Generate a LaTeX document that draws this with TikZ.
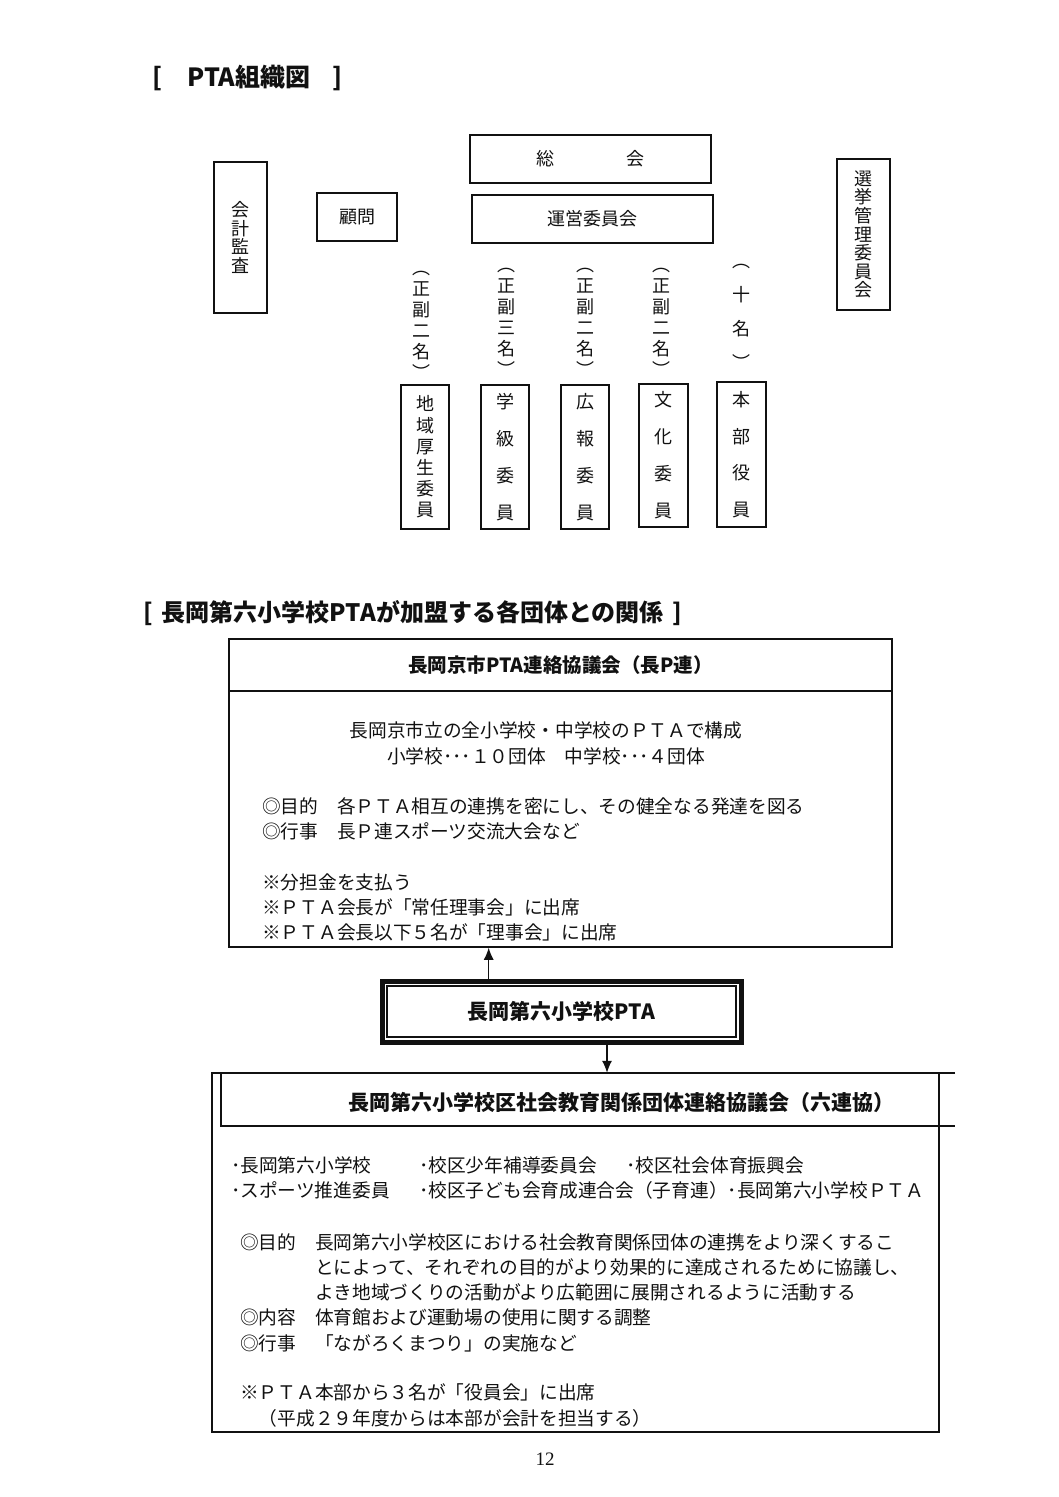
\documentclass[tikz,border=0pt]{standalone}
\usepackage{fontspec}
\usepackage{xcolor}
\usepackage{tikz}
\usetikzlibrary{arrows.meta,calc}
\newfontfamily\jpfont{Noto Sans CJK JP}
\newfontfamily\numfont{Liberation Serif}
\definecolor{inkB}{HTML}{111111}
\definecolor{pageW}{HTML}{FFFFFF}

\begin{document}
\begin{tikzpicture}[x=1pt, y=-1pt,
    box/.style={draw=inkB, line width=1.5pt, inner sep=0pt},
    jp/.style={font=\jpfont\fontsize{18}{18.4}\selectfont, text=inkB, align=center},
    body/.style={font=\jpfont\fontsize{18.7}{25.3}\selectfont, text=inkB, align=left, inner sep=0pt},
    head/.style={font=\jpfont\bfseries\fontsize{21}{24}\selectfont, text=inkB, inner sep=0pt},
    arr/.style={draw=inkB, line width=1.2pt, -{Latex[length=12pt,width=10pt]}}]
  \useasboundingbox[fill=pageW] (0,0) rectangle (1058,1497);

  \node[head, font=\jpfont\bfseries\fontsize{25}{25}\selectfont, anchor=west] (title1) at (152,78)
    {[\hspace{25pt}PTA組織図\hspace{22pt}]};
  \node[box, jp, minimum width=241, minimum height=48] (soukai) at (590.5,159) {総　　　　会};
  \node[box, jp, minimum width=241, minimum height=48] (unei) at (592.5,219) {運営委員会};
  \node[box, jp, minimum width=53, minimum height=151] (kaikei) at (240.5,237.5) {会\\計\\監\\査};
  \node[box, jp, minimum width=80, minimum height=48] (komon) at (357,217) {顧問};
  \node[box, jp, minimum width=53, minimum height=151, font=\jpfont\fontsize{18}{18.6}\selectfont]
    (senkyo) at (863.5,234.5) {選\\挙\\管\\理\\委\\員\\会};

  \node[jp, font=\jpfont\fontsize{18}{21}\selectfont] (chiikiN) at (421,325) {︵\\正\\副\\二\\名\\︶};
  \node[jp, font=\jpfont\fontsize{18}{21}\selectfont] (gakkyuN) at (506,322) {︵\\正\\副\\三\\名\\︶};
  \node[jp, font=\jpfont\fontsize{18}{21}\selectfont] (kouhouN) at (585,322) {︵\\正\\副\\二\\名\\︶};
  \node[jp, font=\jpfont\fontsize{18}{21}\selectfont] (bunkaN) at (661,322) {︵\\正\\副\\二\\名\\︶};
  \node[jp, font=\jpfont\fontsize{18}{34}\selectfont] (honbuN) at (741,317) {︵\\十\\名\\︶};

  \node[box, jp, minimum width=48, minimum height=144, font=\jpfont\fontsize{18}{21.2}\selectfont]
    (chiiki) at (425,457) {地\\域\\厚\\生\\委\\員};
  \node[box, jp, minimum width=48, minimum height=144, font=\jpfont\fontsize{18}{37}\selectfont]
    (gakkyu) at (505,457) {学\\級\\委\\員};
  \node[box, jp, minimum width=48, minimum height=144, font=\jpfont\fontsize{18}{37}\selectfont]
    (kouhou) at (585,457) {広\\報\\委\\員};
  \node[box, jp, minimum width=49, minimum height=143, font=\jpfont\fontsize{18}{37}\selectfont]
    (bunka) at (663.5,455.5) {文\\化\\委\\員};
  \node[box, jp, minimum width=49, minimum height=145, font=\jpfont\fontsize{18}{36.5}\selectfont]
    (honbu) at (741.5,454.5) {本\\部\\役\\員};

  \node[head, font=\jpfont\bfseries\fontsize{24}{24}\selectfont, anchor=west] (title2) at (143,613)
    {[\hspace{9pt}長岡第六小学校PTAが加盟する各団体との関係\hspace{9pt}]};

  \node[box, head, font=\jpfont\bfseries\fontsize{19.5}{22}\selectfont, minimum width=663, minimum height=52]
    (nagaphead) at (560.5,665) {長岡京市PTA連絡協議会（長P連）};
  \node[box, minimum width=663, minimum height=256] (nagap) at (560.5,819) {};
  \node[body, align=center] (nagapA) at (546,743.5)
    {長岡京市立の全小学校・中学校のＰＴＡで構成\\小学校･･･１０団体　中学校･･･４団体};
  \node[body, anchor=west] (nagapB) at (262,818.5)
    {◎目的　各ＰＴＡ相互の連携を密にし、その健全なる発達を図る\\◎行事　長Ｐ連スポーツ交流大会など};
  \node[body, anchor=west] (nagapC) at (262,907.5)
    {※分担金を支払う\\※ＰＴＡ会長が「常任理事会」に出席\\※ＰＴＡ会長以下５名が「理事会」に出席};

  \node[draw=inkB, line width=5pt, inner sep=0pt, head, minimum width=359, minimum height=61]
    (pta) at (561.5,1011.5) {長岡第六小学校PTA};
  \draw[inkB, line width=1.2pt] ([shift={(7.5,7.5)}]pta.north west) rectangle ([shift={(-7.5,-7.5)}]pta.south east);

  \node[box, minimum width=727, minimum height=359] (rokuren) at (575.5,1252.5) {};
  \node[inner sep=0pt, minimum width=734, minimum height=53] (rokuhead) at (588,1099.5) {};
  \draw[inkB, line width=1.5pt] (rokuhead.north east) -- (rokuhead.north west) -- (rokuhead.south west) -- (rokuhead.south east);
  \node[head] (rokutitle) at (621,1102) {長岡第六小学校区社会教育関係団体連絡協議会（六連協）};

  \coordinate (ptaUp) at ($(pta.north west)!0.3!(pta.north east)$);
  \coordinate (ptaDn) at ($(pta.south west)!0.625!(pta.south east)$);
  \draw[arr] (ptaUp) -- (ptaUp |- nagap.south);
  \draw[arr] (ptaDn) -- (ptaDn |- rokuhead.north);

  \node[body, anchor=west] (mem1) at (231,1165) {･長岡第六小学校};
  \node[body, anchor=west] (mem2) at (419,1165) {･校区少年補導委員会};
  \node[body, anchor=west] (mem3) at (626,1165) {･校区社会体育振興会};
  \node[body, anchor=west] (mem4) at (231,1190) {･スポーツ推進委員};
  \node[body, anchor=west] (mem5) at (419,1190) {･校区子ども会育成連合会（子育連）･長岡第六小学校ＰＴＡ};

  \node[body, anchor=west] (rokuAim) at (240,1292.5)
    {◎目的　長岡第六小学校区における社会教育関係団体の連携をより深くするこ\\
     　　　　とによって、それぞれの目的がより効果的に達成されるために協議し、\\
     　　　　よき地域づくりの活動がより広範囲に展開されるように活動する\\
     ◎内容　体育館および運動場の使用に関する調整\\
     ◎行事　「ながろくまつり」の実施など};
  \node[body, anchor=west] (rokuNote) at (240,1405.5)
    {※ＰＴＡ本部から３名が「役員会」に出席\\　（平成２９年度からは本部が会計を担当する）};

  \node[font=\numfont\fontsize{19}{19}\selectfont, text=inkB] (pageno) at (545,1459) {12};
\end{tikzpicture}
\end{document}
